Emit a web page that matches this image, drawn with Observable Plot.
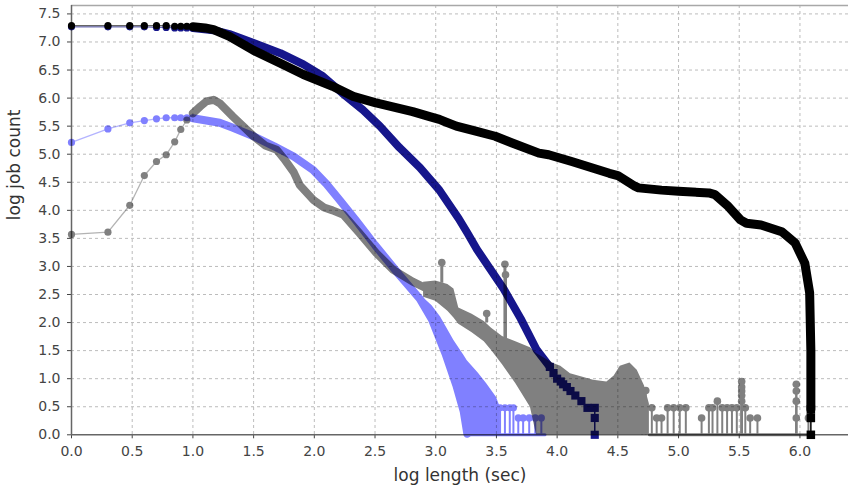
<!DOCTYPE html>
<html><head><meta charset="utf-8">
<script src="https://cdn.jsdelivr.net/npm/d3@7"></script>
<script src="https://cdn.jsdelivr.net/npm/@observablehq/plot@0.6"></script>
<style>body{margin:0;background:#fff}</style>
</head><body><div id="chart"></div>
<script>
const xTicks = [0,0.5,1,1.5,2,2.5,3,3.5,4,4.5,5,5.5,6];
const yTicks = [0,0.5,1,1.5,2,2.5,3,3.5,4,4.5,5,5.5,6,6.5,7,7.5];
const xLabel = "log length (sec)";
const yLabel = "log job count";

// observed cumulative (black)
const blackSparse = [[0,7.29],[0.30,7.29],[0.48,7.29],[0.60,7.29],[0.70,7.29],[0.78,7.29],[0.85,7.28],[0.90,7.28],[0.95,7.28],[1.0,7.27]];
const blackDense = [[1.0,7.27],[1.1,7.25],[1.17,7.22],[1.3,7.10],[1.5,6.85],[1.72,6.62],[1.91,6.42],[2.15,6.21],[2.32,6.03],[2.5,5.92],[2.81,5.76],[2.95,5.67],[3.03,5.62],[3.17,5.50],[3.33,5.41],[3.49,5.32],[3.63,5.20],[3.85,5.02],[3.93,4.99],[4.12,4.87],[4.43,4.66],[4.5,4.62],[4.64,4.43],[4.67,4.40],[4.86,4.36],[5.0,4.34],[5.25,4.31],[5.30,4.28],[5.41,4.07],[5.51,3.83],[5.56,3.77],[5.68,3.74],[5.85,3.62],[5.96,3.42],[6.04,3.06],[6.08,2.53],[6.09,1.5],[6.09,0.45]];
const blackEnd = [[6.09,0.45],[6.09,0.30],[6.09,0]];

// fitted cumulative (navy)
const navySparse = [[0,7.27],[0.30,7.27],[0.48,7.27],[0.60,7.27],[0.70,7.26],[0.78,7.26],[0.85,7.25],[0.90,7.25],[0.95,7.25],[1.0,7.25]];
const navyDense = [[1.0,7.25],[1.17,7.21],[1.30,7.14],[1.5,6.98],[1.72,6.80],[1.91,6.60],[2.07,6.39],[2.23,6.09],[2.40,5.79],[2.54,5.50],[2.70,5.12],[2.87,4.76],[3.03,4.36],[3.19,3.85],[3.26,3.60],[3.34,3.30],[3.45,2.95],[3.56,2.60],[3.70,2.07],[3.83,1.52],[3.94,1.21]];
const navyEnd = [[3.94,1.21],[3.97,1.10],[4.0,1.0],[4.03,0.95],[4.05,0.90],[4.08,0.85],[4.11,0.78],[4.15,0.70],[4.2,0.60],[4.25,0.48],[4.31,0.48],[4.31,0.30],[4.31,0]];

// fitted density (light blue)
const blueSparse = [[0,5.21],[0.30,5.45],[0.48,5.56],[0.60,5.60],[0.70,5.63],[0.78,5.65],[0.85,5.65],[0.90,5.65],[0.95,5.65],[1.0,5.64]];
const blueDense = [[1.0,5.64],[1.11,5.60],[1.22,5.56],[1.33,5.47],[1.5,5.32],[1.67,5.14],[1.83,4.96],[1.99,4.72],[2.1,4.47],[2.21,4.18],[2.35,3.80],[2.5,3.38],[2.7,2.85],[2.87,2.42],[2.97,2.05],[3.08,1.45],[3.17,0.88],[3.23,0.42],[3.26,0.02]];
const blueBand = [[2.87,2.42,2.50],[2.97,2.05,2.30],[3.04,1.65,2.10],[3.15,0.95,1.68],[3.23,0.42,1.42],[3.26,0,1.32],[3.35,0,1.10],[3.42,0,0.91],[3.50,0,0.67],[3.53,0,0.50]];
const blueTail = [[3.53,0.48],[3.57,0.48],[3.61,0.48],[3.64,0.48],[3.68,0.30],[3.72,0.30],[3.77,0.30],[3.82,0.30],[3.87,0.30]];
const blueFloor = [[3.26,0],[3.9,0]];

// observed density (gray)
const graySparse = [[0,3.57],[0.30,3.61],[0.48,4.09],[0.60,4.62],[0.70,4.87],[0.78,4.99],[0.85,5.22],[0.90,5.44],[0.95,5.61],[1.0,5.73]];
const grayDense = [[1.0,5.73],[1.06,5.85],[1.11,5.94],[1.17,5.97],[1.22,5.91],[1.33,5.67],[1.50,5.32],[1.60,5.15],[1.69,5.08],[1.75,4.92],[1.83,4.68],[1.88,4.45],[1.99,4.19],[2.08,4.05],[2.15,4.0],[2.24,3.92],[2.37,3.60],[2.51,3.24],[2.65,2.94],[2.81,2.73],[2.95,2.58]];
const grayBand = [[2.9,2.45,2.72],[3.0,2.38,2.74],[3.1,2.20,2.68],[3.15,2.08,2.60],[3.19,1.97,2.26],[3.3,1.82,2.15],[3.4,1.66,2.02],[3.46,1.50,1.90],[3.55,1.25,1.75],[3.66,0.91,1.66],[3.78,0.49,1.55],[3.83,0,1.45],[3.97,0,1.27],[4.03,0,1.22],[4.11,0,1.09],[4.30,0,0.97],[4.41,0,0.94],[4.47,0,1.05],[4.52,0,1.22],[4.6,0,1.28],[4.66,0,1.15],[4.72,0,0.87],[4.76,0,0.55]];
const graySpikes = [[3.05,2.70,3.07],[3.42,2.00,2.16],[3.57,1.70,3.04],[3.575,1.70,2.85]];
const grayTail = [[4.70,0.79],[4.73,0.79],[4.78,0.48],[4.82,0.30],[4.86,0.30],[4.91,0.48],[4.96,0.48],[5.01,0.48],[5.06,0.48],[5.19,0.30],[5.25,0.48],[5.28,0.48],[5.32,0.60],[5.36,0.48],[5.40,0.48],[5.44,0.48],[5.48,0.48],[5.52,0.95],[5.52,0.85],[5.52,0.78],[5.52,0.70],[5.52,0.60],[5.55,0.48],[5.59,0.30],[5.65,0.30],[5.97,0.90],[5.97,0.78],[5.97,0.60],[5.97,0.30],[6.07,0.30]];
const grayFloor = [[4.76,0],[6.10,0]];

const BLACK = "#000000", NAVY = "#16168c", BLUE = "#8080ff", GRAY = "#808080";
const X = d => d[0], Y = d => d[1];

function series(name, color, sparse, dense, width) {
  return [
    Plot.line(sparse, {x: X, y: Y, stroke: color, strokeWidth: 1.3, strokeOpacity: 0.6, ariaDescription: name}),
    Plot.dot(sparse, {x: X, y: Y, r: 3.6, fill: color, stroke: "none", ariaDescription: name}),
    Plot.line(dense, {x: X, y: Y, stroke: color, strokeWidth: width, strokeLinejoin: "round", strokeLinecap: "round", ariaDescription: name})
  ];
}

const chart = Plot.plot({
  width: 848, height: 492,
  marginLeft: 71, marginRight: 0, marginTop: 5, marginBottom: 57.7,
  x: {domain: [0, 6.40]},
  y: {domain: [0, 7.65]},
  style: {fontFamily: "'DejaVu Sans', sans-serif", fontSize: "14px", color: "#444", background: "#fff"},
  marks: [
    Plot.gridX(xTicks.filter(d => d > 0), {stroke: "#bcbcbc", strokeOpacity: 1, strokeDasharray: "3,3"}),
    Plot.gridY(yTicks.filter(d => d > 0), {stroke: "#bcbcbc", strokeOpacity: 1, strokeDasharray: "3,3"}),
    Plot.ruleY([7.65], {stroke: "#a8a8a8", strokeWidth: 1.5}),
    Plot.axisX(xTicks, {tickFormat: d => d.toFixed(1), tickSize: 4, tickPadding: 7, label: null}),
    Plot.axisY(yTicks, {tickFormat: d => d.toFixed(1), tickSize: 4, tickPadding: 7, label: null}),
    Plot.ruleX([0], {stroke: "#666", strokeWidth: 1.5}),
    Plot.ruleY([0], {stroke: "#666", strokeWidth: 1.5}),
    Plot.text([xLabel], {frameAnchor: "bottom", dy: 46, fontSize: 17, fill: "#333"}),
    Plot.text([yLabel], {frameAnchor: "left", dx: -57, rotate: -90, fontSize: 17, fill: "#333"}),

    // gray observed density
    Plot.areaY(grayBand, {x: X, y1: d => d[1], y2: d => d[2], fill: GRAY, ariaDescription: "gray"}),
    Plot.ruleX(graySpikes, {x: X, y1: d => d[1], y2: d => d[2], stroke: GRAY, strokeWidth: 3, ariaDescription: "gray"}),
    Plot.dot(graySpikes, {x: X, y: d => d[2], r: 3.8, fill: GRAY, ariaDescription: "gray"}),
    Plot.line(grayFloor, {x: X, y: Y, stroke: GRAY, strokeWidth: 3, ariaDescription: "gray"}),
    Plot.ruleX(grayTail, {x: X, y1: d => 0, y2: Y, stroke: GRAY, strokeWidth: 2, ariaDescription: "gray"}),
    Plot.dot(grayTail, {x: X, y: Y, r: 3.8, fill: GRAY, ariaDescription: "gray"}),
    ...series("gray", GRAY, graySparse, grayDense, 8),

    // light blue fitted density
    Plot.areaY(blueBand, {x: X, y1: d => d[1], y2: d => d[2], fill: BLUE, ariaDescription: "blue"}),
    Plot.line(blueFloor, {x: X, y: Y, stroke: BLUE, strokeWidth: 3, ariaDescription: "blue"}),
    Plot.ruleX(blueTail, {x: X, y1: d => 0, y2: Y, stroke: BLUE, strokeWidth: 2, ariaDescription: "blue"}),
    Plot.dot(blueTail, {x: X, y: Y, r: 3.6, fill: BLUE, ariaDescription: "blue"}),
    ...series("blue", BLUE, blueSparse, blueDense, 8),

    // navy fitted cumulative
    ...series("navy", NAVY, navySparse, navyDense, 8),
    Plot.line(navyEnd, {x: X, y: Y, stroke: NAVY, strokeWidth: 1.5, ariaDescription: "navy"}),
    Plot.dot(navyEnd, {x: X, y: Y, symbol: "square", r: 4.6, fill: NAVY, ariaDescription: "navy"}),

    // black observed cumulative
    ...series("black", BLACK, blackSparse, blackDense, 9),
    Plot.line(blackEnd, {x: X, y: Y, stroke: BLACK, strokeWidth: 1.5, ariaDescription: "black"}),
    Plot.dot(blackEnd, {x: X, y: Y, symbol: "square", r: 4.8, fill: BLACK, ariaDescription: "black"})
  ]
});

// group each series so it composites with a multiply blend against the others
for (const name of ["gray", "blue", "navy", "black"]) {
  const els = Array.from(chart.querySelectorAll(`[aria-description="${name}"]`));
  if (!els.length) continue;
  const g = document.createElementNS("http://www.w3.org/2000/svg", "g");
  g.setAttribute("style", "mix-blend-mode:multiply");
  els[0].parentNode.insertBefore(g, els[0]);
  els.forEach(e => g.appendChild(e));
}
document.getElementById("chart").appendChild(chart);
</script>
</body></html>
